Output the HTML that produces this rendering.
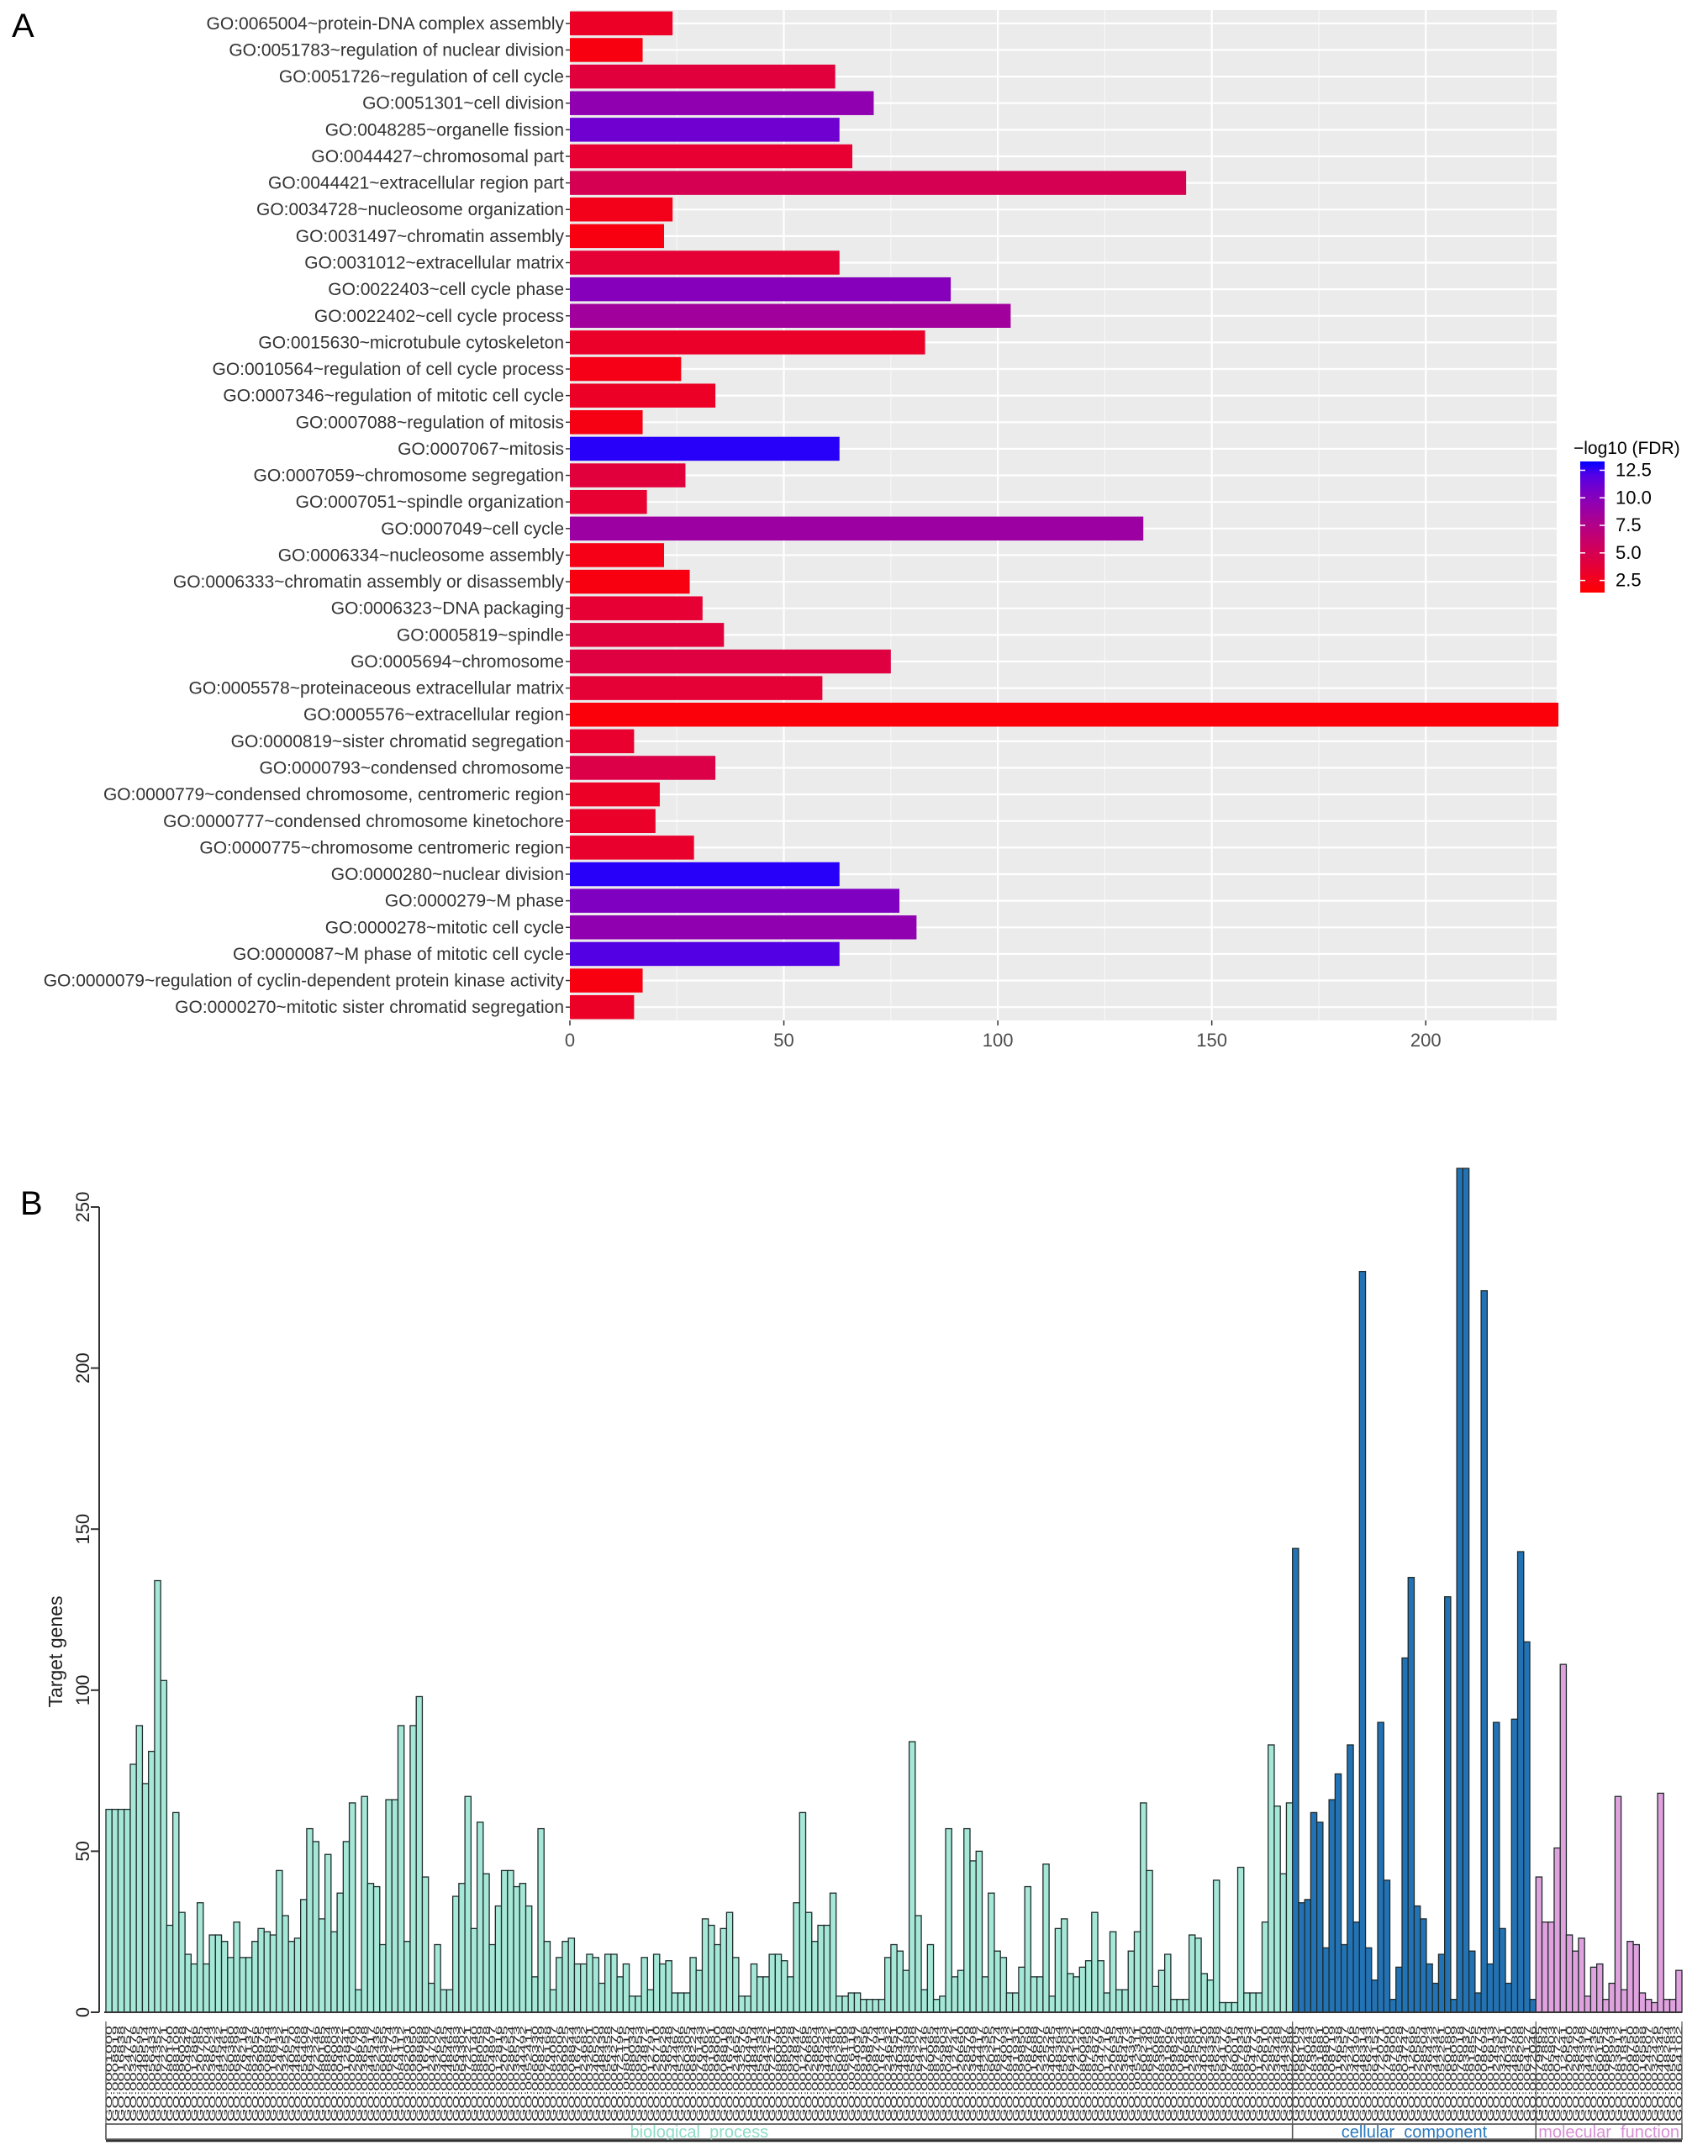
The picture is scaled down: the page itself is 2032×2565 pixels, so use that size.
<!DOCTYPE html>
<html><head><meta charset="utf-8"><style>
html,body{margin:0;padding:0;background:#fff;}
svg{display:block;font-family:"Liberation Sans",Arial,sans-serif;}
</style></head><body>
<svg id="fig" width="2032" height="2565" viewBox="0 0 2032 2565" xmlns="http://www.w3.org/2000/svg">
<text x="14" y="44" font-size="40" fill="#000">A</text>
<text x="24" y="1445" font-size="40" fill="#000">B</text>
<g id="pa"></g>
<g id="pb"></g>
</svg>
<script>
// ---------- Panel A data ----------
const aTerms = ["GO:0065004~protein-DNA complex assembly","GO:0051783~regulation of nuclear division","GO:0051726~regulation of cell cycle","GO:0051301~cell division","GO:0048285~organelle fission","GO:0044427~chromosomal part","GO:0044421~extracellular region part","GO:0034728~nucleosome organization","GO:0031497~chromatin assembly","GO:0031012~extracellular matrix","GO:0022403~cell cycle phase","GO:0022402~cell cycle process","GO:0015630~microtubule cytoskeleton","GO:0010564~regulation of cell cycle process","GO:0007346~regulation of mitotic cell cycle","GO:0007088~regulation of mitosis","GO:0007067~mitosis","GO:0007059~chromosome segregation","GO:0007051~spindle organization","GO:0007049~cell cycle","GO:0006334~nucleosome assembly","GO:0006333~chromatin assembly or disassembly","GO:0006323~DNA packaging","GO:0005819~spindle","GO:0005694~chromosome","GO:0005578~proteinaceous extracellular matrix","GO:0005576~extracellular region","GO:0000819~sister chromatid segregation","GO:0000793~condensed chromosome","GO:0000779~condensed chromosome, centromeric region","GO:0000777~condensed chromosome kinetochore","GO:0000775~chromosome centromeric region","GO:0000280~nuclear division","GO:0000279~M phase","GO:0000278~mitotic cell cycle","GO:0000087~M phase of mitotic cell cycle","GO:0000079~regulation of cyclin-dependent protein kinase activity","GO:0000270~mitotic sister chromatid segregation"];
const aCounts = [24,17,62,71,63,66,144,24,22,63,89,103,83,26,34,17,63,27,18,134,22,28,31,36,75,59,231,15,34,21,20,29,63,77,81,63,17,15];
const aFdr = [3,2,4,9.5,11,3.5,5,2.5,2,3.7,10,8.5,3.2,2.3,3,2.2,13,4,3.5,8.8,2.3,2,3.6,4,4.2,3.7,1.8,3.4,4.5,3,3.2,3.3,13,10.3,9.5,12,2,3];
const aTicks = [0,50,100,150,200];
const legendTicks = [2.5,5.0,7.5,10.0,12.5];

// ---------- Panel B data ----------
const bioVals = [63,63,63,63,77,89,71,81,134,103,27,62,31,18,15,34,15,24,24,22,17,28,17,17,22,26,25,24,44,30,22,23,35,57,53,29,49,25,37,53,65,7,67,40,39,21,66,66,89,22,89,98,42,9,21,7,7,36,40,67,26,59,43,
21,33,44,44,39,40,33,11,57,22,7,17,22,23,15,15,18,17,9,18,18,11,15,5,5,17,7,18,15,16,6,6,6,17,13,29,27,21,26,31,17,5,5,15,11,11,18,18,16,11,34,62,31,22,27,27,37,5,5,6,6,4,4,4,4,17,21,
19,13,84,30,7,21,4,5,57,11,13,57,47,50,11,37,19,17,6,6,14,39,11,11,46,5,26,29,12,11,14,16,31,16,6,25,7,7,19,25,65,44,8,13,18,4,4,4,24,23,12,10,41,3,3,3,45,6,6,6,28,83,64,43,65];
const cellVals = [144,34,35,62,59,20,66,74,21,83,28,230,20,10,90,41,4,14,110,135,33,29,15,9,18,129,4,262,262,19,6,224,15,90,26,9,91,143,115,4];
const molVals = [42,28,28,51,108,24,19,23,5,14,15,4,9,67,7,22,21,6,4,3,68,4,4,13];
const bTicks = [0,50,100,150,200,250];
const groupNames = ["biological_process","cellular_component","molecular_function"];

const NS = "http://www.w3.org/2000/svg";
function mk(tag, attrs, parent){const e=document.createElementNS(NS,tag);for(const k in attrs)e.setAttribute(k,attrs[k]);parent.appendChild(e);return e;}

// ---------- Panel A ----------
(function(){
const g=document.getElementById('pa');
const L=678,R=1852,T=12,B=1214;
const xmax=230.6;
const x=v=>L+(R-L)*v/xmax;
const rowH=(B-T)/aTerms.length;
const yc=i=>T+rowH*(i+0.5);
const colorOf=f=>{let t=(f-1.4)/(13.3-1.4);t=Math.max(0,Math.min(1,t));const r=Math.round(255*Math.pow(1-t,0.5)),b=Math.round(255*Math.pow(t,0.95));return `rgb(${r},0,${b})`;};
const bg=mk('rect',{x:L,y:T,width:R-L,height:B-T,fill:'#ebebeb'},g);


for(let v=25;v<xmax;v+=50){const l=mk('line',{x1:x(v),x2:x(v),y1:T,y2:B,stroke:'#f7f7f7','stroke-width':1.2},g);

}
aTicks.forEach(v=>{const l=mk('line',{x1:x(v),x2:x(v),y1:T,y2:B,stroke:'#fff','stroke-width':2.2},g);


const tk=mk('line',{x1:x(v),x2:x(v),y1:B,y2:B+6,stroke:'#333','stroke-width':1.5},g);


const t=mk('text',{x:x(v),y:B+31,'font-size':22,fill:'#4d4d4d','text-anchor':'middle'},g);t.textContent=v;

});
aTerms.forEach((term,i)=>{
const gl=mk('line',{x1:L,x2:R,y1:yc(i),y2:yc(i),stroke:'#fff','stroke-width':2.2},g);


const bh=rowH*0.9;
const r=mk('rect',{x:L,y:yc(i)-bh/2,width:x(aCounts[i])-L,height:bh,fill:colorOf(aFdr[i])},g);


const tk=mk('line',{x1:L-5,x2:L,y1:yc(i),y2:yc(i),stroke:'#333','stroke-width':1.5},g);


const t=mk('text',{x:L-7,y:yc(i)+7,'font-size':21,fill:'#333','text-anchor':'end'},g);t.textContent=term;


});
// legend
const lt=mk('text',{x:1872,y:540,'font-size':21,fill:'#000'},g);lt.textContent='\u2212log10 (FDR)';


const cbTop=549,cbBot=705,vTop=13.3,vBot=1.4;
const cy=v=>cbBot-(v-vBot)/(vTop-vBot)*(cbBot-cbTop);
const defs=mk('defs',{},g);
const grad=mk('linearGradient',{id:'cb',x1:0,y1:1,x2:0,y2:0},defs);
for(let k=0;k<=10;k++){const f=vBot+(vTop-vBot)*k/10;mk('stop',{offset:(k*10)+'%','stop-color':colorOf(f)},grad);}
const cb=mk('rect',{x:1880,y:cbTop,width:29,height:cbBot-cbTop,fill:'url(#cb)'},g);


legendTicks.forEach(v=>{
mk('line',{x1:1880,x2:1886,y1:cy(v),y2:cy(v),stroke:'#fff','stroke-width':1.5},g);
mk('line',{x1:1903,x2:1909,y1:cy(v),y2:cy(v),stroke:'#fff','stroke-width':1.5},g);
const t=mk('text',{x:1922,y:cy(v)+7,'font-size':22,fill:'#000'},g);t.textContent=v.toFixed(1);

});
})();

// ---------- Panel B ----------
(function(){
const g=document.getElementById('pb');
const L=126,R=2001,Y0=2394,Y250=1436;
const y=v=>Y0-(Y0-Y250)*v/250;
const all=[];
bioVals.forEach(v=>all.push([v,0]));cellVals.forEach(v=>all.push([v,1]));molVals.forEach(v=>all.push([v,2]));
const bw=(R-L)/all.length;
const fills=['#a6e8d8','#2273b6','#e0a2de'];
const labFill=['#8fdcc8','#2a7ac0','#d88fd6'];
const ax=mk('line',{x1:118,x2:118,y1:y(0),y2:y(250),stroke:'#333','stroke-width':2},g);


bTicks.forEach(v=>{mk('line',{x1:108,x2:118,y1:y(v),y2:y(v),stroke:'#333','stroke-width':2},g);
const t=mk('text',{x:0,y:0,'font-size':22,fill:'#222','text-anchor':'middle',transform:`translate(106,${y(v)}) rotate(-90)`},g);t.textContent=v;

});
const yt=mk('text',{x:0,y:0,'font-size':23,fill:'#222','text-anchor':'middle',transform:'translate(74,1965) rotate(-90)'},g);yt.textContent='Target genes';


all.forEach(([v,grp],i)=>{
const r=mk('rect',{x:L+i*bw,y:y(v),width:bw,height:y(0)-y(v),fill:fills[grp],stroke:'#1f2a2a','stroke-width':1.3},g);


const id='GO:00'+String(1000+((i*7919)%99000)).padStart(5,'0');
const t=mk('text',{x:0,y:0,'font-size':10,fill:'#222',textLength:114,lengthAdjust:'spacingAndGlyphs','text-anchor':'end',transform:`translate(${L+i*bw+bw/2+3.5},2410) rotate(-90)`},g);t.textContent=id;


});
const bl=mk('line',{x1:L-2,x2:R,y1:y(0),y2:y(0),stroke:'#333','stroke-width':2},g);


const n=[bioVals.length,cellVals.length,molVals.length];
let s=0;
n.forEach((c,k)=>{
const x0=L+s*bw,x1=L+(s+c)*bw;
const bx=mk('rect',{x:x0,y:2527,width:x1-x0,height:18,fill:'#fff',stroke:'#444','stroke-width':1.5},g);


mk('line',{x1:x0,x2:x0,y1:2405,y2:2545,stroke:'#555','stroke-width':1.2},g);
const t=mk('text',{x:(x0+x1)/2,y:2543,'font-size':20,fill:labFill[k],'text-anchor':'middle'},g);t.textContent=groupNames[k];


s+=c;});
mk('line',{x1:R,x2:R,y1:2405,y2:2545,stroke:'#555','stroke-width':1.2},g);
mk('line',{x1:L,x2:R,y1:2547,y2:2547,stroke:'#333','stroke-width':2.5},g);
})();
</script>
</body></html>
